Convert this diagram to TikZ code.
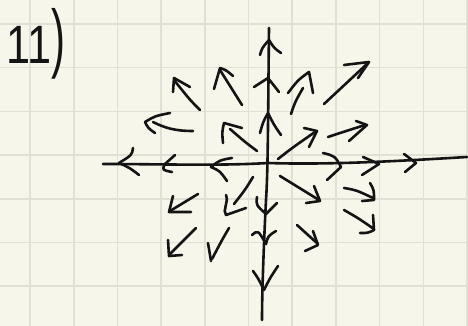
\documentclass[tikz,border=0pt]{standalone}
\usepackage{fontspec}
\setmainfont{Liberation Sans}
\definecolor{paper}{HTML}{F7F6EA}
\definecolor{gridc}{HTML}{E1E0D5}
\definecolor{inkc}{HTML}{141414}
\begin{document}
\begin{tikzpicture}[x=1pt,y=-1pt,
  ink/.style={draw=inkc,line width=2.6pt,line cap=round,line join=round},
  gridline/.style={draw=gridc,line width=1.6pt}]
\fill[paper] (0,0) rectangle (468,326);
\useasboundingbox (0,0) rectangle (468,326);
% grid
\foreach \x in {30,73.7,117.4,161.1,204.8,248.5,292.2,335.9,379.6,423.3,467}
  \draw[gridline] (\x,0) -- (\x,326);
\foreach \y in {24,67.7,111.4,155.1,198.8,242.5,286.2}
  \draw[gridline] (0,\y) -- (468,\y);
% label
\node[anchor=base west,text=inkc,inner sep=0pt] (lbl) at (6,64)
  {{\fontsize{54}{54}\selectfont\scalebox{0.8}[1]{11}}{\fontsize{76}{76}\selectfont\scalebox{0.55}[1]{)}}};
% axes
\coordinate (vtop) at (269,28);
\coordinate (vbot) at (262,320);
\coordinate (hleft) at (103,164);
\coordinate (hright) at (467,157);
\draw[ink] (vtop) .. controls (268,120) and (268,170) .. (266,200) .. controls (264,240) and (262,290) .. (vbot);
\draw[ink] (hleft) .. controls (160,164) and (220,166) .. (268,163) .. controls (330,165) and (400,161) .. (hright);
% chevrons on vertical axis (up)
\draw[ink] (260,55) .. controls (262,48) .. (269,40) .. controls (274,48) .. (281,53);
\draw[ink] (254,87) -- (268,78) -- (279,92);
\draw[ink] (260,133) .. controls (263,122) .. (268,113) .. controls (274,125) .. (281,135);
% chevrons on vertical axis (down)
\draw[ink] (257,197) .. controls (256,205) .. (266,214) .. controls (271,208) .. (277,203);
\draw[ink] (252,235) .. controls (258,230) .. (266,244) .. controls (268,236) .. (276,231);
\draw[ink] (253,271) .. controls (258,278) .. (264,290) .. controls (270,278) .. (278,266);
% chevrons on horizontal axis (left)
\draw[ink] (133,148) .. controls (132,155) .. (119,163) .. controls (130,168) .. (139,175);
\draw[ink] (175,155) -- (165,164) .. controls (162,170) .. (172,172);
\draw[ink] (232,158) .. controls (220,160) .. (211,167) .. controls (220,171) .. (227,181);
% chevrons on horizontal axis (right)
\draw[ink] (323,153) .. controls (335,156) .. (341,167) .. controls (334,173) .. (327,180);
\draw[ink] (363,157) -- (379,164) -- (362,175);
\draw[ink] (404,154) -- (416,163) -- (405,172);
% upper-left field arrows
\draw[ink] (200,110) .. controls (190,100) .. (174,80);
\draw[ink] (190,87) -- (174,78) -- (173,92);
\draw[ink] (242,105) -- (220,70);
\draw[ink] (233,76) .. controls (226,70) .. (220,68) -- (214,89);
\draw[ink] (193,131) .. controls (175,131) and (165,128) .. (153,122);
\draw[ink] (170,113) .. controls (155,116) .. (145,122) .. controls (148,128) .. (155,133);
\draw[ink] (257,151) .. controls (245,142) .. (230,129);
\draw[ink] (223,143) .. controls (222,132) .. (224,123) -- (242,128);
% upper-right field arrows
\draw[ink] (324,104) -- (368,63);
\draw[ink] (344,65) -- (369,62) -- (358,78);
\draw[ink] (291,114) .. controls (295,102) .. (303,88);
\draw[ink] (288,93) .. controls (298,80) .. (309,72) -- (313,93);
\draw[ink] (278,159) .. controls (292,148) .. (315,132);
\draw[ink] (304,128) -- (317,131) -- (309,147);
\draw[ink] (328,137) .. controls (340,133) .. (365,125);
\draw[ink] (356,121) -- (367,125) -- (349,141);
% lower-right field arrows
\draw[ink] (280,176) -- (319,200);
\draw[ink] (314,186) -- (320,201) -- (306,203);
\draw[ink] (344,188) .. controls (356,190) .. (373,198);
\draw[ink] (370,183) .. controls (374,190) .. (374,200) -- (362,201);
\draw[ink] (344,210) .. controls (358,218) .. (374,229);
\draw[ink] (373,215) -- (374,230) .. controls (368,233) .. (360,233);
\draw[ink] (297,225) -- (318,244);
\draw[ink] (313,231) -- (318,245) -- (305,251);
% lower-left field arrows
\draw[ink] (198,194) -- (170,211);
\draw[ink] (173,196) -- (169,212) -- (191,212);
\draw[ink] (196,228) -- (170,254);
\draw[ink] (168,240) -- (169,256) -- (182,255);
\draw[ink] (229,228) .. controls (222,240) .. (212,259);
\draw[ink] (208,243) .. controls (209,252) .. (211,261);
\draw[ink] (253,177) .. controls (245,190) .. (234,204);
\draw[ink] (226,195) .. controls (229,203) and (222,210) .. (226,215) -- (246,208);
\end{tikzpicture}
\end{document}
